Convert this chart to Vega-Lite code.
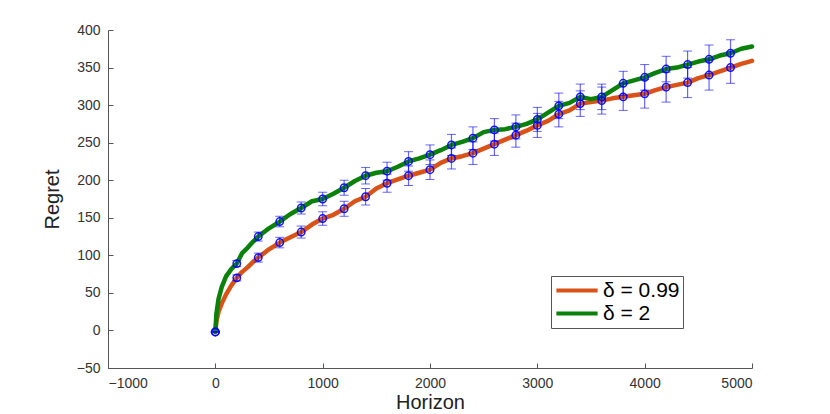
{
  "$schema": "https://vega.github.io/schema/vega-lite/v6.json",
  "width": 644,
  "height": 338,
  "autosize": "none",
  "padding": {"left": 108, "top": 30, "right": 78, "bottom": 46},
  "background": "white",
  "config": {
    "view": {"stroke": null},
    "font": "Liberation Sans",
    "axis": {
      "domainColor": "#555555",
      "tickColor": "#555555",
      "tickSize": -5,
      "grid": false,
      "labelOverlap": false,
      "labelFont": "Liberation Sans",
      "labelFontSize": 14,
      "labelColor": "#333333",
      "titleFont": "Liberation Sans",
      "titleFontSize": 20,
      "titleFontWeight": "normal",
      "titleColor": "#222222"
    }
  },
  "datasets": {
    "curves": [
      {"series": "δ = 0.99", "horizon": 0, "regret": -2},
      {"series": "δ = 0.99", "horizon": 10, "regret": 12},
      {"series": "δ = 0.99", "horizon": 30, "regret": 25},
      {"series": "δ = 0.99", "horizon": 60, "regret": 36},
      {"series": "δ = 0.99", "horizon": 100, "regret": 48},
      {"series": "δ = 0.99", "horizon": 150, "regret": 60},
      {"series": "δ = 0.99", "horizon": 200, "regret": 70},
      {"series": "δ = 0.99", "horizon": 250, "regret": 78},
      {"series": "δ = 0.99", "horizon": 300, "regret": 84},
      {"series": "δ = 0.99", "horizon": 350, "regret": 91},
      {"series": "δ = 0.99", "horizon": 400, "regret": 97},
      {"series": "δ = 0.99", "horizon": 500, "regret": 108},
      {"series": "δ = 0.99", "horizon": 600, "regret": 117},
      {"series": "δ = 0.99", "horizon": 700, "regret": 124},
      {"series": "δ = 0.99", "horizon": 800, "regret": 131},
      {"series": "δ = 0.99", "horizon": 900, "regret": 141},
      {"series": "δ = 0.99", "horizon": 1000, "regret": 149},
      {"series": "δ = 0.99", "horizon": 1100, "regret": 154},
      {"series": "δ = 0.99", "horizon": 1200, "regret": 162},
      {"series": "δ = 0.99", "horizon": 1300, "regret": 172},
      {"series": "δ = 0.99", "horizon": 1400, "regret": 178},
      {"series": "δ = 0.99", "horizon": 1500, "regret": 189},
      {"series": "δ = 0.99", "horizon": 1600, "regret": 196},
      {"series": "δ = 0.99", "horizon": 1700, "regret": 201},
      {"series": "δ = 0.99", "horizon": 1800, "regret": 206},
      {"series": "δ = 0.99", "horizon": 1900, "regret": 210},
      {"series": "δ = 0.99", "horizon": 2000, "regret": 214},
      {"series": "δ = 0.99", "horizon": 2100, "regret": 223},
      {"series": "δ = 0.99", "horizon": 2200, "regret": 229},
      {"series": "δ = 0.99", "horizon": 2300, "regret": 232},
      {"series": "δ = 0.99", "horizon": 2400, "regret": 236},
      {"series": "δ = 0.99", "horizon": 2500, "regret": 242},
      {"series": "δ = 0.99", "horizon": 2600, "regret": 248},
      {"series": "δ = 0.99", "horizon": 2700, "regret": 254},
      {"series": "δ = 0.99", "horizon": 2800, "regret": 260},
      {"series": "δ = 0.99", "horizon": 2900, "regret": 266},
      {"series": "δ = 0.99", "horizon": 3000, "regret": 273},
      {"series": "δ = 0.99", "horizon": 3100, "regret": 279},
      {"series": "δ = 0.99", "horizon": 3200, "regret": 288},
      {"series": "δ = 0.99", "horizon": 3300, "regret": 293},
      {"series": "δ = 0.99", "horizon": 3400, "regret": 302},
      {"series": "δ = 0.99", "horizon": 3500, "regret": 304},
      {"series": "δ = 0.99", "horizon": 3600, "regret": 306},
      {"series": "δ = 0.99", "horizon": 3700, "regret": 309},
      {"series": "δ = 0.99", "horizon": 3800, "regret": 311},
      {"series": "δ = 0.99", "horizon": 3900, "regret": 313},
      {"series": "δ = 0.99", "horizon": 4000, "regret": 315},
      {"series": "δ = 0.99", "horizon": 4100, "regret": 320},
      {"series": "δ = 0.99", "horizon": 4200, "regret": 324},
      {"series": "δ = 0.99", "horizon": 4300, "regret": 327},
      {"series": "δ = 0.99", "horizon": 4400, "regret": 330},
      {"series": "δ = 0.99", "horizon": 4500, "regret": 336},
      {"series": "δ = 0.99", "horizon": 4600, "regret": 340},
      {"series": "δ = 0.99", "horizon": 4700, "regret": 345},
      {"series": "δ = 0.99", "horizon": 4800, "regret": 350},
      {"series": "δ = 0.99", "horizon": 4900, "regret": 355},
      {"series": "δ = 0.99", "horizon": 5000, "regret": 359},
      {"series": "δ = 2", "horizon": 0, "regret": -2},
      {"series": "δ = 2", "horizon": 10, "regret": 22},
      {"series": "δ = 2", "horizon": 30, "regret": 42},
      {"series": "δ = 2", "horizon": 60, "regret": 58},
      {"series": "δ = 2", "horizon": 100, "regret": 72},
      {"series": "δ = 2", "horizon": 150, "regret": 82},
      {"series": "δ = 2", "horizon": 200, "regret": 89},
      {"series": "δ = 2", "horizon": 250, "regret": 103},
      {"series": "δ = 2", "horizon": 300, "regret": 110},
      {"series": "δ = 2", "horizon": 350, "regret": 118},
      {"series": "δ = 2", "horizon": 400, "regret": 125},
      {"series": "δ = 2", "horizon": 500, "regret": 136},
      {"series": "δ = 2", "horizon": 600, "regret": 145},
      {"series": "δ = 2", "horizon": 700, "regret": 155},
      {"series": "δ = 2", "horizon": 800, "regret": 163},
      {"series": "δ = 2", "horizon": 900, "regret": 172},
      {"series": "δ = 2", "horizon": 1000, "regret": 175},
      {"series": "δ = 2", "horizon": 1100, "regret": 182},
      {"series": "δ = 2", "horizon": 1200, "regret": 190},
      {"series": "δ = 2", "horizon": 1300, "regret": 199},
      {"series": "δ = 2", "horizon": 1400, "regret": 206},
      {"series": "δ = 2", "horizon": 1500, "regret": 210},
      {"series": "δ = 2", "horizon": 1600, "regret": 212},
      {"series": "δ = 2", "horizon": 1700, "regret": 218},
      {"series": "δ = 2", "horizon": 1800, "regret": 225},
      {"series": "δ = 2", "horizon": 1900, "regret": 229},
      {"series": "δ = 2", "horizon": 2000, "regret": 234},
      {"series": "δ = 2", "horizon": 2100, "regret": 240},
      {"series": "δ = 2", "horizon": 2200, "regret": 247},
      {"series": "δ = 2", "horizon": 2300, "regret": 251},
      {"series": "δ = 2", "horizon": 2400, "regret": 256},
      {"series": "δ = 2", "horizon": 2500, "regret": 264},
      {"series": "δ = 2", "horizon": 2600, "regret": 267},
      {"series": "δ = 2", "horizon": 2700, "regret": 268},
      {"series": "δ = 2", "horizon": 2800, "regret": 271},
      {"series": "δ = 2", "horizon": 2900, "regret": 275},
      {"series": "δ = 2", "horizon": 3000, "regret": 281},
      {"series": "δ = 2", "horizon": 3100, "regret": 290},
      {"series": "δ = 2", "horizon": 3200, "regret": 299},
      {"series": "δ = 2", "horizon": 3300, "regret": 303},
      {"series": "δ = 2", "horizon": 3400, "regret": 311},
      {"series": "δ = 2", "horizon": 3500, "regret": 308},
      {"series": "δ = 2", "horizon": 3600, "regret": 311},
      {"series": "δ = 2", "horizon": 3700, "regret": 320},
      {"series": "δ = 2", "horizon": 3800, "regret": 329},
      {"series": "δ = 2", "horizon": 3900, "regret": 333},
      {"series": "δ = 2", "horizon": 4000, "regret": 337},
      {"series": "δ = 2", "horizon": 4100, "regret": 343},
      {"series": "δ = 2", "horizon": 4200, "regret": 348},
      {"series": "δ = 2", "horizon": 4300, "regret": 350},
      {"series": "δ = 2", "horizon": 4400, "regret": 354},
      {"series": "δ = 2", "horizon": 4500, "regret": 358},
      {"series": "δ = 2", "horizon": 4600, "regret": 361},
      {"series": "δ = 2", "horizon": 4700, "regret": 366},
      {"series": "δ = 2", "horizon": 4800, "regret": 369},
      {"series": "δ = 2", "horizon": 4900, "regret": 375},
      {"series": "δ = 2", "horizon": 5000, "regret": 378}
    ],
    "markers": [
      {"series": "δ = 0.99", "horizon": 0, "regret": -2, "lo": -2, "hi": -2},
      {"series": "δ = 0.99", "horizon": 200, "regret": 70, "lo": 66, "hi": 74},
      {"series": "δ = 0.99", "horizon": 400, "regret": 97, "lo": 91, "hi": 103},
      {"series": "δ = 0.99", "horizon": 600, "regret": 117, "lo": 110, "hi": 124},
      {"series": "δ = 0.99", "horizon": 800, "regret": 131, "lo": 123, "hi": 139},
      {"series": "δ = 0.99", "horizon": 1000, "regret": 149, "lo": 140, "hi": 158},
      {"series": "δ = 0.99", "horizon": 1200, "regret": 162, "lo": 152, "hi": 172},
      {"series": "δ = 0.99", "horizon": 1400, "regret": 178, "lo": 167, "hi": 189},
      {"series": "δ = 0.99", "horizon": 1600, "regret": 196, "lo": 184, "hi": 208},
      {"series": "δ = 0.99", "horizon": 1800, "regret": 206, "lo": 193, "hi": 219},
      {"series": "δ = 0.99", "horizon": 2000, "regret": 214, "lo": 201, "hi": 227},
      {"series": "δ = 0.99", "horizon": 2200, "regret": 229, "lo": 215, "hi": 243},
      {"series": "δ = 0.99", "horizon": 2400, "regret": 236, "lo": 221, "hi": 251},
      {"series": "δ = 0.99", "horizon": 2600, "regret": 248, "lo": 233, "hi": 263},
      {"series": "δ = 0.99", "horizon": 2800, "regret": 260, "lo": 244, "hi": 276},
      {"series": "δ = 0.99", "horizon": 3000, "regret": 273, "lo": 257, "hi": 289},
      {"series": "δ = 0.99", "horizon": 3200, "regret": 288, "lo": 271, "hi": 305},
      {"series": "δ = 0.99", "horizon": 3400, "regret": 302, "lo": 285, "hi": 319},
      {"series": "δ = 0.99", "horizon": 3600, "regret": 306, "lo": 288, "hi": 324},
      {"series": "δ = 0.99", "horizon": 3800, "regret": 311, "lo": 293, "hi": 329},
      {"series": "δ = 0.99", "horizon": 4000, "regret": 315, "lo": 296, "hi": 334},
      {"series": "δ = 0.99", "horizon": 4200, "regret": 324, "lo": 304, "hi": 344},
      {"series": "δ = 0.99", "horizon": 4400, "regret": 330, "lo": 310, "hi": 350},
      {"series": "δ = 0.99", "horizon": 4600, "regret": 340, "lo": 320, "hi": 360},
      {"series": "δ = 0.99", "horizon": 4800, "regret": 350, "lo": 329, "hi": 371},
      {"series": "δ = 2", "horizon": 0, "regret": -2, "lo": -2, "hi": -2},
      {"series": "δ = 2", "horizon": 200, "regret": 89, "lo": 85, "hi": 93},
      {"series": "δ = 2", "horizon": 400, "regret": 125, "lo": 119, "hi": 131},
      {"series": "δ = 2", "horizon": 600, "regret": 145, "lo": 138, "hi": 152},
      {"series": "δ = 2", "horizon": 800, "regret": 163, "lo": 155, "hi": 171},
      {"series": "δ = 2", "horizon": 1000, "regret": 175, "lo": 166, "hi": 184},
      {"series": "δ = 2", "horizon": 1200, "regret": 190, "lo": 180, "hi": 200},
      {"series": "δ = 2", "horizon": 1400, "regret": 206, "lo": 195, "hi": 217},
      {"series": "δ = 2", "horizon": 1600, "regret": 212, "lo": 200, "hi": 224},
      {"series": "δ = 2", "horizon": 1800, "regret": 225, "lo": 212, "hi": 238},
      {"series": "δ = 2", "horizon": 2000, "regret": 234, "lo": 221, "hi": 247},
      {"series": "δ = 2", "horizon": 2200, "regret": 247, "lo": 233, "hi": 261},
      {"series": "δ = 2", "horizon": 2400, "regret": 256, "lo": 241, "hi": 271},
      {"series": "δ = 2", "horizon": 2600, "regret": 267, "lo": 252, "hi": 282},
      {"series": "δ = 2", "horizon": 2800, "regret": 271, "lo": 255, "hi": 287},
      {"series": "δ = 2", "horizon": 3000, "regret": 281, "lo": 265, "hi": 297},
      {"series": "δ = 2", "horizon": 3200, "regret": 299, "lo": 282, "hi": 316},
      {"series": "δ = 2", "horizon": 3400, "regret": 311, "lo": 294, "hi": 328},
      {"series": "δ = 2", "horizon": 3600, "regret": 311, "lo": 294, "hi": 328},
      {"series": "δ = 2", "horizon": 3800, "regret": 329, "lo": 313, "hi": 345},
      {"series": "δ = 2", "horizon": 4000, "regret": 337, "lo": 320, "hi": 354},
      {"series": "δ = 2", "horizon": 4200, "regret": 348, "lo": 331, "hi": 365},
      {"series": "δ = 2", "horizon": 4400, "regret": 354, "lo": 336, "hi": 372},
      {"series": "δ = 2", "horizon": 4600, "regret": 361, "lo": 342, "hi": 380},
      {"series": "δ = 2", "horizon": 4800, "regret": 369, "lo": 351, "hi": 387}
    ]
  },
  "encoding": {
    "x": {
      "field": "horizon",
      "type": "quantitative",
      "title": "Horizon",
      "scale": {"domain": [-1000, 5000], "nice": false, "zero": false},
      "axis": {"values": [-1000, 0, 1000, 2000, 3000, 4000, 5000], "tickCount": 20, "format": "d", "labelOverlap": false, "labelPadding": 13, "titlePadding": 2}
    }
  },
  "layer": [
    {
      "data": {"name": "curves"},
      "mark": {"type": "line", "strokeWidth": 4.5, "strokeCap": "round", "strokeJoin": "round"},
      "encoding": {
        "y": {
          "field": "regret",
          "type": "quantitative",
          "title": "Regret",
          "scale": {"domain": [-50, 400], "nice": false, "zero": false},
          "axis": {"values": [-50, 0, 50, 100, 150, 200, 250, 300, 350, 400], "tickCount": 20, "format": "d", "labelOverlap": false, "labelPadding": 13, "titlePadding": 14}
        },
        "color": {
          "field": "series",
          "type": "nominal",
          "scale": {"domain": ["δ = 0.99", "δ = 2"], "range": ["#D95319", "#0B800B"]},
          "legend": {
            "title": null,
            "orient": "none",
            "legendX": 443,
            "legendY": 246,
            "symbolType": "stroke",
            "symbolSize": 1700,
            "symbolStrokeWidth": 4,
            "clipHeight": 23,
            "labelFont": "Liberation Sans",
            "labelFontSize": 21,
            "labelColor": "#000000",
            "labelOffset": 3,
            "rowPadding": 0,
            "padding": 3,
            "strokeColor": "#555555",
            "fillColor": "white"
          }
        }
      }
    },
    {
      "data": {"name": "markers"},
      "mark": {"type": "errorbar", "color": "#0000FF", "opacity": 0.6, "ticks": {"size": 9}, "rule": {"strokeWidth": 1.2}},
      "encoding": {
        "y": {"field": "lo", "type": "quantitative", "title": "Regret"},
        "y2": {"field": "hi"}
      }
    },
    {
      "data": {"name": "markers"},
      "mark": {"type": "point", "shape": "circle", "filled": false, "size": 55, "stroke": "#0000FF", "strokeWidth": 1.5, "opacity": 0.9},
      "encoding": {
        "y": {"field": "regret", "type": "quantitative", "title": "Regret"}
      }
    }
  ]
}
